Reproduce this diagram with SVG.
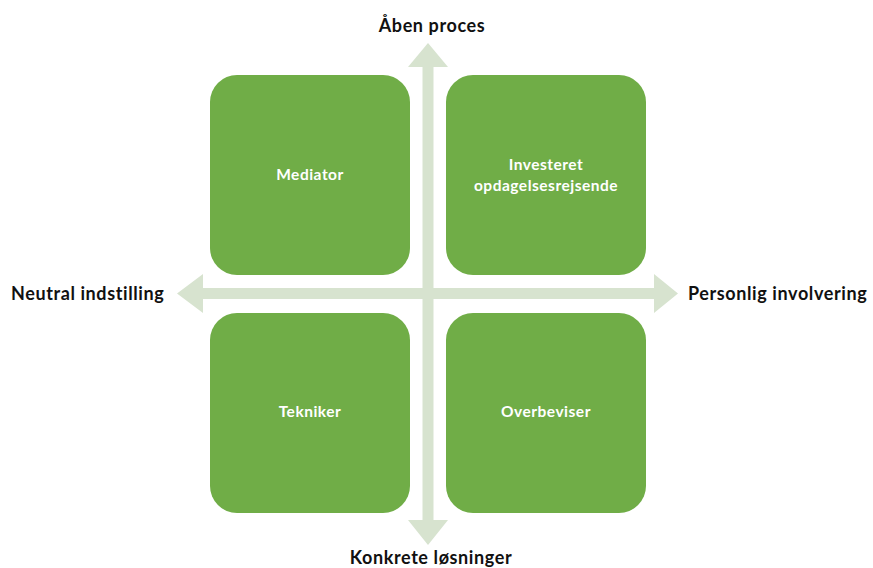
<svg xmlns="http://www.w3.org/2000/svg" width="873" height="568" viewBox="0 0 873 568">
<style>
.box{fill:#70AD47}
.axis{fill:#D7E3CF}
.in{font-family:Lato,"Liberation Sans",sans-serif;font-weight:bold;font-size:15.5px;letter-spacing:0.5px;fill:#FFFFFF;text-anchor:middle}
.lbl{font-family:Lato,"Liberation Sans",sans-serif;font-weight:bold;font-size:18px;letter-spacing:0.6px;fill:#111111}
</style>
<rect width="873" height="568" fill="#FFFFFF"/>
<g id="connectors">
<polygon class="axis" points="428,43 448,67 433.5,67 433.5,520 448,520 428,545 408,520 422.5,520 422.5,67 408,67"/>
<polygon class="axis" points="177,293.5 203,274 203,288 654,288 654,274 678,293.5 654,313 654,299 203,299 203,313"/>
</g>
<g id="n1"><rect class="box" x="210" y="75" width="200" height="200" rx="27"/><text class="in" x="310" y="180">Mediator</text></g>
<g id="n2"><rect class="box" x="446" y="75" width="200" height="200" rx="27"/><text class="in" x="546" y="170">Investeret</text><text class="in" x="546" y="191">opdagelsesrejsende</text></g>
<g id="n3"><rect class="box" x="210" y="313" width="200" height="200" rx="27"/><text class="in" x="310" y="417">Tekniker</text></g>
<g id="n4"><rect class="box" x="446" y="313" width="200" height="200" rx="27"/><text class="in" x="546" y="417">Overbeviser</text></g>
<g id="l1"><text class="lbl" x="432" y="32" text-anchor="middle">Åben proces</text></g>
<g id="l2"><text class="lbl" x="11" y="300">Neutral indstilling</text></g>
<g id="l3"><text class="lbl" x="688" y="300">Personlig involvering</text></g>
<g id="l4"><text class="lbl" x="431" y="564" text-anchor="middle">Konkrete løsninger</text></g>
</svg>
